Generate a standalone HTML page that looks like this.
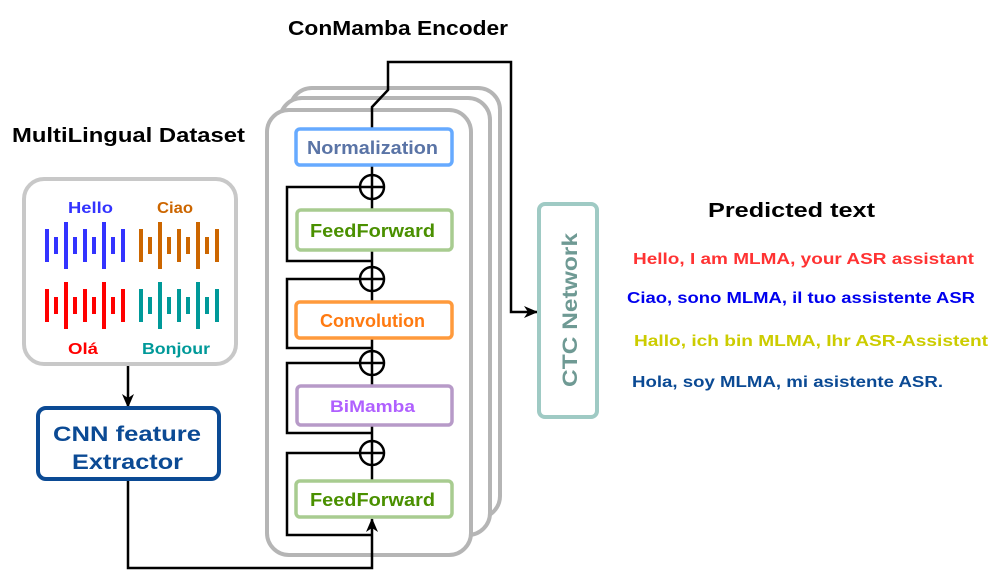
<!DOCTYPE html>
<html><head><meta charset="utf-8"><style>
html,body{margin:0;padding:0;background:#fff;}
svg{display:block;}
text{font-family:"Liberation Sans",sans-serif;font-weight:bold;}
</style></head><body>
<svg width="996" height="583" viewBox="0 0 996 583" xmlns="http://www.w3.org/2000/svg">
<defs><marker id="ah" markerWidth="14" markerHeight="12" refX="13" refY="6" orient="auto" markerUnits="userSpaceOnUse"><path d="M0,0 L14,6 L0,12 L4,6 z" fill="#000"/></marker></defs>
<!-- titles -->
<text x="288" y="35" font-size="20" textLength="220" lengthAdjust="spacingAndGlyphs" fill="#000">ConMamba Encoder</text>
<text x="12" y="142" font-size="20" textLength="233" lengthAdjust="spacingAndGlyphs" fill="#000">MultiLingual Dataset</text>
<text x="708" y="217" font-size="20" textLength="167" lengthAdjust="spacingAndGlyphs" fill="#000">Predicted text</text>

<!-- dataset box -->
<rect x="24" y="179" width="212" height="185" rx="20" fill="#fff" stroke="#c8c8c8" stroke-width="4"/>
<text x="68" y="213" font-size="16" textLength="45" lengthAdjust="spacingAndGlyphs" fill="#3333ff">Hello</text>
<text x="157" y="213" font-size="16" textLength="36" lengthAdjust="spacingAndGlyphs" fill="#cc6600">Ciao</text>
<text x="68" y="354" font-size="16" textLength="30" lengthAdjust="spacingAndGlyphs" fill="#ff0000">Olá</text>
<text x="142" y="354" font-size="16" textLength="68" lengthAdjust="spacingAndGlyphs" fill="#009999">Bonjour</text>
<g stroke-width="4">
<g stroke="#3333ff"><line x1="47" y1="229" x2="47" y2="262"/><line x1="56" y1="237" x2="56" y2="254"/><line x1="66" y1="222" x2="66" y2="269"/><line x1="75" y1="237" x2="75" y2="254"/><line x1="85" y1="229" x2="85" y2="262"/><line x1="94" y1="237" x2="94" y2="254"/><line x1="104" y1="222" x2="104" y2="269"/><line x1="113" y1="237" x2="113" y2="254"/><line x1="123" y1="229" x2="123" y2="262"/></g>
<g stroke="#cc6600"><line x1="141" y1="229" x2="141" y2="262"/><line x1="150" y1="237" x2="150" y2="254"/><line x1="160" y1="222" x2="160" y2="269"/><line x1="169" y1="237" x2="169" y2="254"/><line x1="179" y1="229" x2="179" y2="262"/><line x1="188" y1="237" x2="188" y2="254"/><line x1="198" y1="222" x2="198" y2="269"/><line x1="207" y1="237" x2="207" y2="254"/><line x1="217" y1="229" x2="217" y2="262"/></g>
<g stroke="#ff0000"><line x1="47" y1="289" x2="47" y2="322"/><line x1="56" y1="297" x2="56" y2="314"/><line x1="66" y1="282" x2="66" y2="329"/><line x1="75" y1="297" x2="75" y2="314"/><line x1="85" y1="289" x2="85" y2="322"/><line x1="94" y1="297" x2="94" y2="314"/><line x1="104" y1="282" x2="104" y2="329"/><line x1="113" y1="297" x2="113" y2="314"/><line x1="123" y1="289" x2="123" y2="322"/></g>
<g stroke="#009999"><line x1="141" y1="289" x2="141" y2="322"/><line x1="150" y1="297" x2="150" y2="314"/><line x1="160" y1="282" x2="160" y2="329"/><line x1="169" y1="297" x2="169" y2="314"/><line x1="179" y1="289" x2="179" y2="322"/><line x1="188" y1="297" x2="188" y2="314"/><line x1="198" y1="282" x2="198" y2="329"/><line x1="207" y1="297" x2="207" y2="314"/><line x1="217" y1="289" x2="217" y2="322"/></g>
</g>
<line x1="128" y1="366" x2="128" y2="407" stroke="#000" stroke-width="2.5" marker-end="url(#ah)"/>
<!-- CNN -->
<rect x="38" y="408" width="181" height="71" rx="8" fill="#fff" stroke="#0b4a94" stroke-width="4"/>
<text x="53" y="441" font-size="21" textLength="148" lengthAdjust="spacingAndGlyphs" fill="#0b4a94" font-weight="normal">CNN feature</text>
<text x="72" y="469" font-size="21" textLength="111" lengthAdjust="spacingAndGlyphs" fill="#0b4a94" font-weight="normal">Extractor</text>

<!-- encoder stacks -->
<rect x="290" y="88" width="210" height="430" rx="22" fill="#fff" stroke="#b5b5b5" stroke-width="4"/>
<rect x="280" y="98" width="210" height="437" rx="22" fill="#fff" stroke="#b5b5b5" stroke-width="4"/>
<rect x="267" y="110" width="204" height="445" rx="22" fill="#fff" stroke="#b5b5b5" stroke-width="4"/>

<!-- connectors -->
<g fill="none" stroke="#000" stroke-width="2.5">
<polyline points="128,481 128,568 372,568 372,519" marker-end="url(#ah)"/>
<polyline points="372,129 372,107 388,90 388,62 511,62 511,312 537,312" marker-end="url(#ah)"/>
<line x1="372" y1="165" x2="372" y2="209"/>
<line x1="372" y1="250" x2="372" y2="301"/>
<line x1="372" y1="338" x2="372" y2="385"/>
<line x1="372" y1="425" x2="372" y2="480"/>
<polyline points="372,261 287,261 287,187 360,187"/>
<polyline points="372,348 287,348 287,279 360,279"/>
<polyline points="372,433 287,433 287,363 360,363"/>
<polyline points="372,535 287,535 287,453 360,453"/>
<g>
<circle cx="372" cy="187" r="12" fill="#fff"/><line x1="360" y1="187" x2="384" y2="187"/><line x1="372" y1="175" x2="372" y2="199"/>
<circle cx="372" cy="279" r="12" fill="#fff"/><line x1="360" y1="279" x2="384" y2="279"/><line x1="372" y1="267" x2="372" y2="291"/>
<circle cx="372" cy="363" r="12" fill="#fff"/><line x1="360" y1="363" x2="384" y2="363"/><line x1="372" y1="351" x2="372" y2="375"/>
<circle cx="372" cy="453" r="12" fill="#fff"/><line x1="360" y1="453" x2="384" y2="453"/><line x1="372" y1="441" x2="372" y2="465"/>
</g>
</g>

<!-- blocks -->
<rect x="296" y="129" width="156" height="36" rx="4" fill="#fff" stroke="#66aaff" stroke-width="3.5"/>
<text x="307" y="154" font-size="18" textLength="131" lengthAdjust="spacingAndGlyphs" fill="#5a74a6">Normalization</text>
<rect x="297" y="210" width="155" height="40" rx="4" fill="#fff" stroke="#a8cc90" stroke-width="3.5"/>
<text x="310" y="237" font-size="18" textLength="125" lengthAdjust="spacingAndGlyphs" fill="#4a9000">FeedForward</text>
<rect x="296" y="302" width="156" height="36" rx="4" fill="#fff" stroke="#ff9a3c" stroke-width="3.5"/>
<text x="320" y="327" font-size="18" textLength="105" lengthAdjust="spacingAndGlyphs" fill="#ff7a10">Convolution</text>
<rect x="297" y="386" width="155" height="39" rx="4" fill="#fff" stroke="#b79ac8" stroke-width="3.5"/>
<text x="330" y="412" font-size="17" textLength="85" lengthAdjust="spacingAndGlyphs" fill="#b060ff">BiMamba</text>
<rect x="296" y="481" width="156" height="36" rx="4" fill="#fff" stroke="#a8cc90" stroke-width="3.5"/>
<text x="310" y="506" font-size="18" textLength="125" lengthAdjust="spacingAndGlyphs" fill="#4a9000">FeedForward</text>

<!-- CTC -->
<rect x="539" y="204" width="58" height="213" rx="6" fill="#fff" stroke="#9fcac4" stroke-width="4"/>
<text transform="translate(577,387) rotate(-90)" font-size="21" textLength="154" lengthAdjust="spacingAndGlyphs" fill="#6f9a94" font-weight="normal">CTC Network</text>

<!-- outputs -->
<text x="633" y="264" font-size="16" textLength="341" lengthAdjust="spacingAndGlyphs" fill="#ff3333">Hello, I am MLMA, your ASR assistant</text>
<text x="627" y="303" font-size="16" textLength="348" lengthAdjust="spacingAndGlyphs" fill="#0000ee">Ciao, sono MLMA, il tuo assistente ASR</text>
<text x="634" y="346" font-size="16" textLength="354" lengthAdjust="spacingAndGlyphs" fill="#cccc00">Hallo, ich bin MLMA, Ihr ASR-Assistent</text>
<text x="632" y="387" font-size="16" textLength="311" lengthAdjust="spacingAndGlyphs" fill="#0b4a94">Hola, soy MLMA, mi asistente ASR.</text>
</svg>
</body></html>
